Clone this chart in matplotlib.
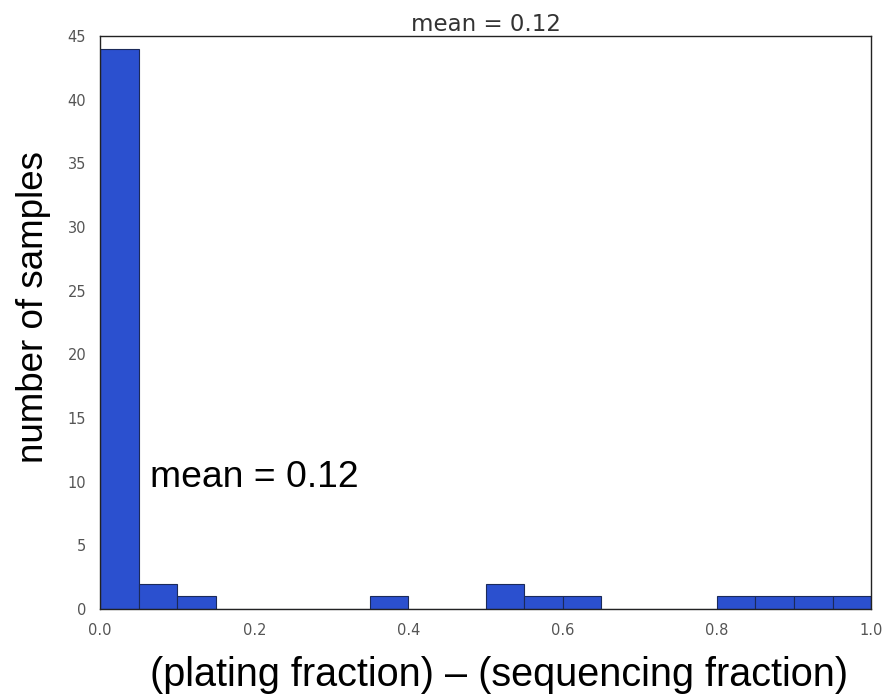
import numpy as np
import matplotlib
matplotlib.use("Agg")
from matplotlib import pyplot as plt

# histogram of (plating fraction) - (sequencing fraction), 0.05 wide bins
bin_edges = np.round(np.arange(0.0, 1.0001, 0.05), 2)
counts = [44, 2, 1, 0, 0, 0, 0, 1, 0, 0, 2, 1, 1, 0, 0, 0, 1, 1, 1, 1]
mean_value = 0.12

x_ticks = [0.0, 0.2, 0.4, 0.6, 0.8, 1.0]
y_ticks = [0, 5, 10, 15, 20, 25, 30, 35, 40, 45]

label_font = "Liberation Sans"

fig = plt.figure(figsize=(8.83, 7.0), dpi=100)
ax = fig.add_axes([0.1133, 0.130, 0.8732, 0.8186])

ax.bar(
    bin_edges[:-1],
    counts,
    width=np.diff(bin_edges),
    align="edge",
    color="#2b50cf",
    edgecolor="#1b2a5a",
    linewidth=0.8,
)

ax.set_xlim(0, 1.0)
ax.set_ylim(0, 45)
ax.set_xticks(x_ticks)
ax.set_xticklabels([f"{t:.1f}" for t in x_ticks])
ax.set_yticks(y_ticks)
ax.tick_params(length=0, labelsize=10.5, colors="#555555")
ax.tick_params(axis="y", pad=10)
ax.tick_params(axis="x", pad=10)
for spine in ax.spines.values():
    spine.set_linewidth(1.0)
    spine.set_color("#222222")

ax.set_title(f"mean = {mean_value:.2f}", fontsize=16.5, color="#333333", pad=3)
ax.set_ylabel("number of samples", fontsize=26.5, family=label_font)
ax.set_xlabel("(plating fraction) \u2013 (sequencing fraction)", fontsize=28.5,
              family=label_font)
ax.yaxis.set_label_coords(-0.063, 0.527)
ax.xaxis.set_label_coords(0.518, -0.082)
ax.text(0.065, 10.3, f"mean = {mean_value:.2f}", fontsize=26.8, family=label_font,
        va="center", ha="left")

fig.savefig("out.png", dpi=100)
